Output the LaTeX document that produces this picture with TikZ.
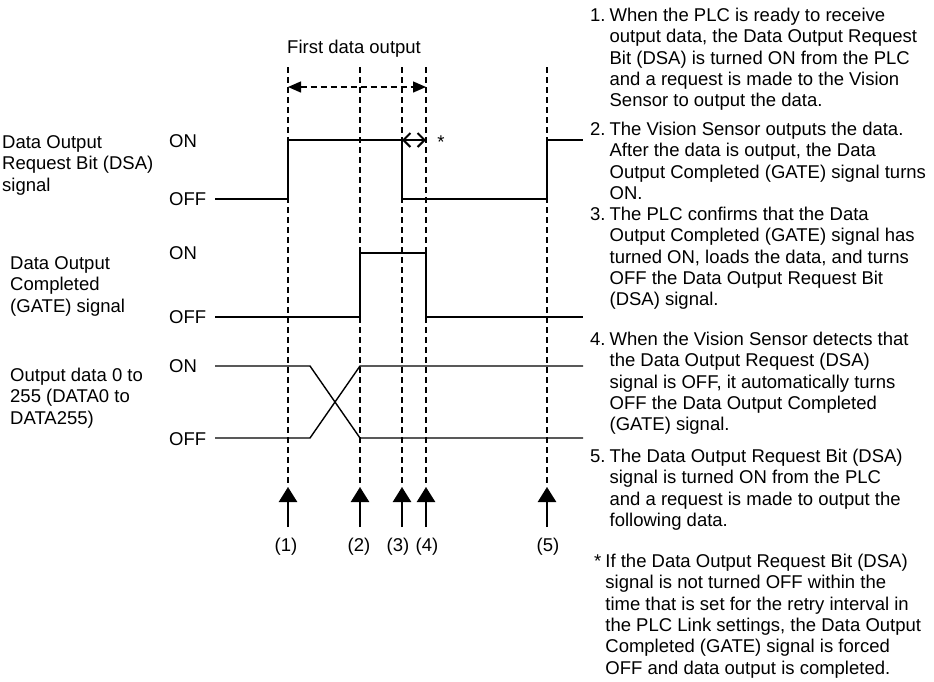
\documentclass[tikz,border=0pt]{standalone}
\usepackage{fontspec}
\setmainfont{Liberation Sans}
\usetikzlibrary{arrows.meta}
\newcommand\ftxt{\fontsize{18.5}{21.3}\selectfont}
\begin{document}
\begin{tikzpicture}[x=1pt,y=-1pt,
  every node/.style={inner sep=0pt,font=\ftxt},
  lbl/.style={anchor=base west},
  sig/.style={line width=1.4pt},
  guide/.style={line width=1.4pt,dash pattern=on 6pt off 4pt},
  evarrow/.style={line width=2.6pt,-{Triangle[length=15pt,width=18pt]}},
  spanarrow/.style={line width=1.4pt,dash pattern=on 6pt off 4pt,{Triangle[length=13pt,width=11pt]}-{Triangle[length=13pt,width=11pt]}},
  retryarrow/.style={line width=2pt,{Straight Barb[length=7pt,width=14pt]}-{Straight Barb[length=7pt,width=14pt]}}]
\useasboundingbox (0,0) rectangle (934,681);
% time points
\foreach \n/\x in {1/288,2/360,3/402,4/426,5/547}{
  \coordinate (top\n) at (\x,67);
  \coordinate (tip\n) at (\x,487);
  \coordinate (bot\n) at (\x,527);
}
% left labels
\node[lbl] (dsaL) at (2,148.5) {\begin{tabular}[t]{@{}l@{}}Data Output\\Request Bit (DSA)\\signal\end{tabular}};
\node[lbl] (gateL) at (10,269.5) {\begin{tabular}[t]{@{}l@{}}Data Output\\Completed\\(GATE) signal\end{tabular}};
\node[lbl] (dataL) at (10,381.5) {\begin{tabular}[t]{@{}l@{}}Output data 0 to\\255 (DATA0 to\\DATA255)\end{tabular}};
% ON / OFF
\node[lbl] (on1) at (169,147.5) {ON};
\node[lbl] (off1) at (169,205.6) {OFF};
\node[lbl] (on2) at (169,259.6) {ON};
\node[lbl] (off2) at (169,323.6) {OFF};
\node[lbl] (on3) at (169,372.6) {ON};
\node[lbl] (off3) at (169,445.6) {OFF};
% title
\node[lbl] (first) at (287,53) {First data output};
% guides
\foreach \n in {1,...,5}{
  \draw[guide] (top\n) -- (tip\n);
  \draw[evarrow] (bot\n) -- (tip\n);
}
\draw[spanarrow] (288,87) -- (426,87);
% signals
\draw[sig] (215,199) -- (288,199) -- (288,140) -- (402,140) -- (402,199) -- (547,199) -- (547,140) -- (583,140);
\draw[sig] (215,317) -- (360,317) -- (360,253) -- (426,253) -- (426,317) -- (583,317);
\draw[sig] (215,366) -- (310,366) -- (360,438) -- (583,438);
\draw[sig] (215,438) -- (310,438) -- (360,366) -- (583,366);
\draw[retryarrow] (402,140) -- (426,140);
\node (star) at (441,142) {*};
% event labels
\node[anchor=base] (n1) at (286,551) {(1)};
\node[anchor=base] (n2) at (359,551) {(2)};
\node[anchor=base] (n3) at (398,551) {(3)};
\node[anchor=base] (n4) at (427,551) {(4)};
\node[anchor=base] (n5) at (548,551) {(5)};
% notes
\node[lbl] (it1) at (590,21.5) {\begin{tabular}[t]{@{}l@{\hspace{4pt}}l@{}}1.&When the PLC is ready to receive\\&output data, the Data Output Request\\&Bit (DSA) is turned ON from the PLC\\&and a request is made to the Vision\\&Sensor to output the data.\end{tabular}};
\node[lbl] (it2) at (590,135.5) {\begin{tabular}[t]{@{}l@{\hspace{4pt}}l@{}}2.&The Vision Sensor outputs the data.\\&After the data is output, the Data\\&Output Completed (GATE) signal turns\\&ON.\end{tabular}};
\node[lbl] (it3) at (590,220.5) {\begin{tabular}[t]{@{}l@{\hspace{4pt}}l@{}}3.&The PLC confirms that the Data\\&Output Completed (GATE) signal has\\&turned ON, loads the data, and turns\\&OFF the Data Output Request Bit\\&(DSA) signal.\end{tabular}};
\node[lbl] (it4) at (590,345.5) {\begin{tabular}[t]{@{}l@{\hspace{4pt}}l@{}}4.&When the Vision Sensor detects that\\&the Data Output Request (DSA)\\&signal is OFF, it automatically turns\\&OFF the Data Output Completed\\&(GATE) signal.\end{tabular}};
\node[lbl] (it5) at (590,462.5) {\begin{tabular}[t]{@{}l@{\hspace{4pt}}l@{}}5.&The Data Output Request Bit (DSA)\\&signal is turned ON from the PLC\\&and a request is made to output the\\&following data.\end{tabular}};
\node[lbl] (itS) at (594,567.5) {\begin{tabular}[t]{@{}l@{\hspace{4pt}}l@{}}*&If the Data Output Request Bit (DSA)\\&signal is not turned OFF within the\\&time that is set for the retry interval in\\&the PLC Link settings, the Data Output\\&Completed (GATE) signal is forced\\&OFF and data output is completed.\end{tabular}};
\end{tikzpicture}
\end{document}
